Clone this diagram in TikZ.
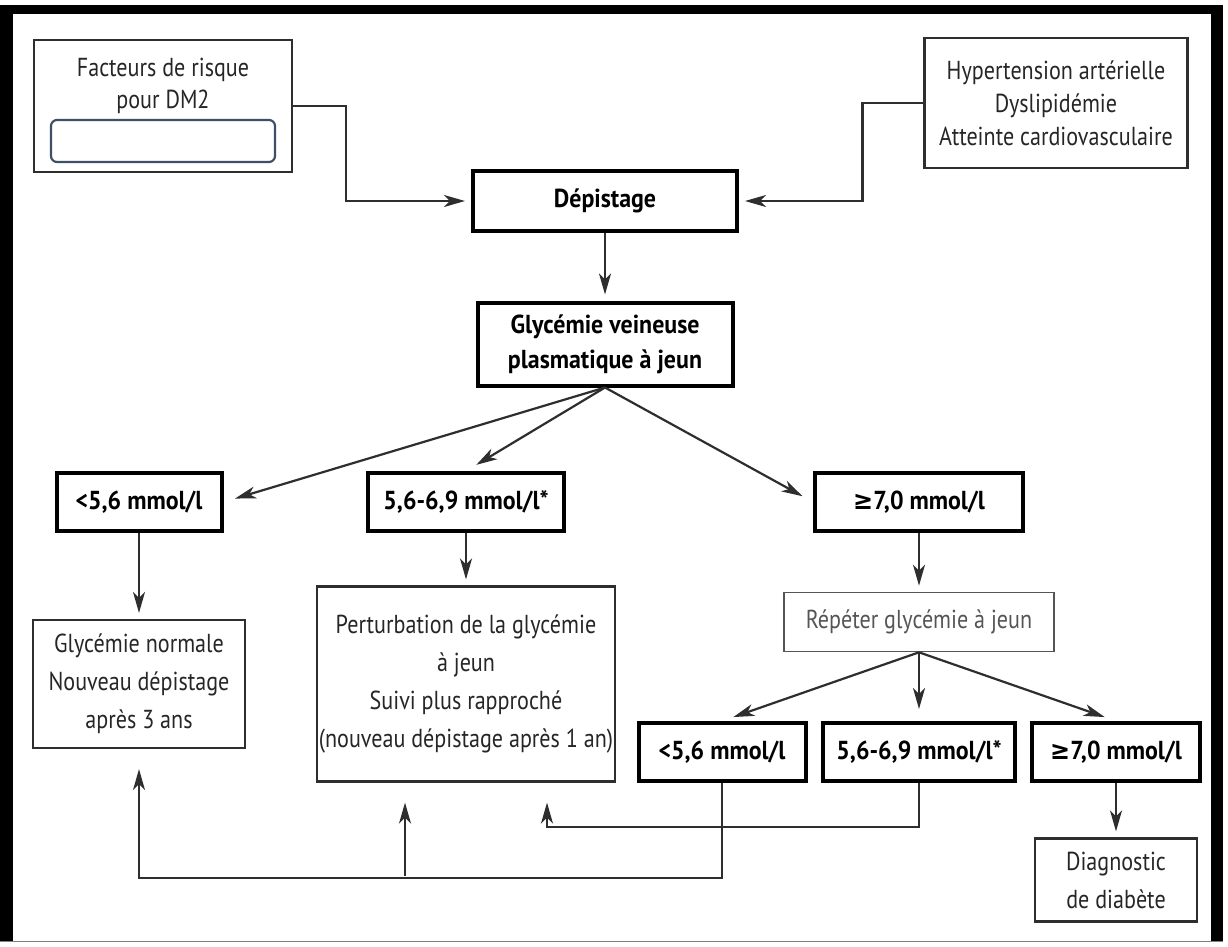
\documentclass[tikz,border=0pt]{standalone}
\usepackage{fontspec}
\setmainfont{PT Sans}[FakeStretch=0.85]
\newfontfamily\boldface{PT Sans Bold}[FakeStretch=0.92]
\newfontfamily\symfont{DejaVu Sans Bold}[FakeStretch=0.92]
\usetikzlibrary{arrows.meta}
\definecolor{linegray}{HTML}{2E2E2E}
\definecolor{fieldblue}{HTML}{3E5068}
\definecolor{softgray}{HTML}{555555}

\begin{document}
\begin{tikzpicture}
  [x=1pt,y=-1pt,
   box/.style={draw=linegray,line width=2.2pt,fill=white,align=center,inner sep=0pt,text=black!85,font=\fontsize{26}{33}\selectfont},
   tallbox/.style={box,font=\fontsize{26}{38}\selectfont},
   boldbox/.style={box,draw=black,line width=4pt,text=black,font=\fontsize{26}{35}\boldface},
   lbl/.style={align=center,inner sep=0pt,text=black!85,font=\fontsize{26}{32}\selectfont},
   field/.style={draw=fieldblue,line width=2.2pt,rounded corners=6pt,inner sep=0pt},
   arr/.style={draw=linegray,line width=2.2pt,shorten >=6pt,-{Stealth[length=21pt,width=12pt,inset=6pt]}}]
  \useasboundingbox (0,0) rectangle (1228,946);
  \fill (0,5) rectangle (13,941);
  \fill (0,5) rectangle (1223,14);
  \fill (1211,5) rectangle (1223,941);
  \draw[gray,line width=1pt] (0,941) -- (1223,941);

  \node (fact) [box,minimum width=258pt,minimum height=132pt] at (163,106) {};
  \node (facttxt) [lbl] at (163,86) {Facteurs de risque\\pour DM2};
  \node (factfield) [field,minimum width=224pt,minimum height=42pt] at (163,141) {};
  \node (hyp) [box,minimum width=263pt,minimum height=130pt] at (1056,103) {Hypertension artérielle\\Dyslipidémie\\Atteinte cardiovasculaire};
  \node (dep) [boldbox,minimum width=264pt,minimum height=60pt] at (605,201) {Dépistage};
  \node (gly) [boldbox,minimum width=255pt,minimum height=83pt] at (605,344) {Glycémie veineuse\\plasmatique à jeun};
  \node (lo1) [boldbox,minimum width=165pt,minimum height=58pt] at (139,502) {<5,6 mmol/l};
  \node (mid1) [boldbox,minimum width=196pt,minimum height=58pt] at (466,502) {5,6-6,9 mmol/l*};
  \node (hi1) [boldbox,minimum width=208pt,minimum height=58pt] at (919,502) {{\symfont ≥}7,0 mmol/l};
  \node (norm) [tallbox,minimum width=212pt,minimum height=128pt] at (139,684) {Glycémie normale\\Nouveau dépistage\\après 3 ans};
  \node (pert) [tallbox,minimum width=298pt,minimum height=195pt] at (466,684) {Perturbation de la glycémie\\à jeun\\Suivi plus rapproché\\(nouveau dépistage après 1 an)};
  \node (rep) [box,draw=softgray,line width=1.6pt,text=softgray,minimum width=270pt,minimum height=59pt] at (919,622) {Répéter glycémie à jeun};
  \node (lo2) [boldbox,minimum width=167pt,minimum height=58pt] at (722,752) {<5,6 mmol/l};
  \node (mid2) [boldbox,minimum width=192pt,minimum height=58pt] at (919,752) {5,6-6,9 mmol/l*};
  \node (hi2) [boldbox,minimum width=168pt,minimum height=58pt] at (1116,752) {{\symfont ≥}7,0 mmol/l};
  \node (diag) [tallbox,minimum width=162pt,minimum height=83pt] at (1116,880) {Diagnostic\\de diabète};

  \draw[arr] (fact.east) -- ++(53,0) |- (dep.west);
  \draw[arr] (hyp.west) -- ++(-61,0) |- (dep.east);
  \foreach \from/\to in {dep/gly,lo1/norm,mid1/pert,hi1/rep,hi2/diag}
    \draw[arr] (\from.south) -- (\to.north);
  \foreach \to in {lo1.east,mid1.north,hi1.west}
    \draw[arr,shorten >=12pt] (gly.south) -- (\to);
  \foreach \to in {lo2,mid2,hi2}
    \draw[arr,shorten >=12pt] (rep.south) -- (\to.north);

  \coordinate (split) at (405,876);
  \draw[arr,shorten >=20pt] (lo2.south) -- ++(0,95) -| (norm.south);
  \draw[arr,shorten >=20pt] (split) -- (split |- pert.south);
  \draw[arr,shorten >=20pt] (mid2.south) -- ++(0,44) -| ([xshift=81pt]pert.south);

\end{tikzpicture}
\end{document}
